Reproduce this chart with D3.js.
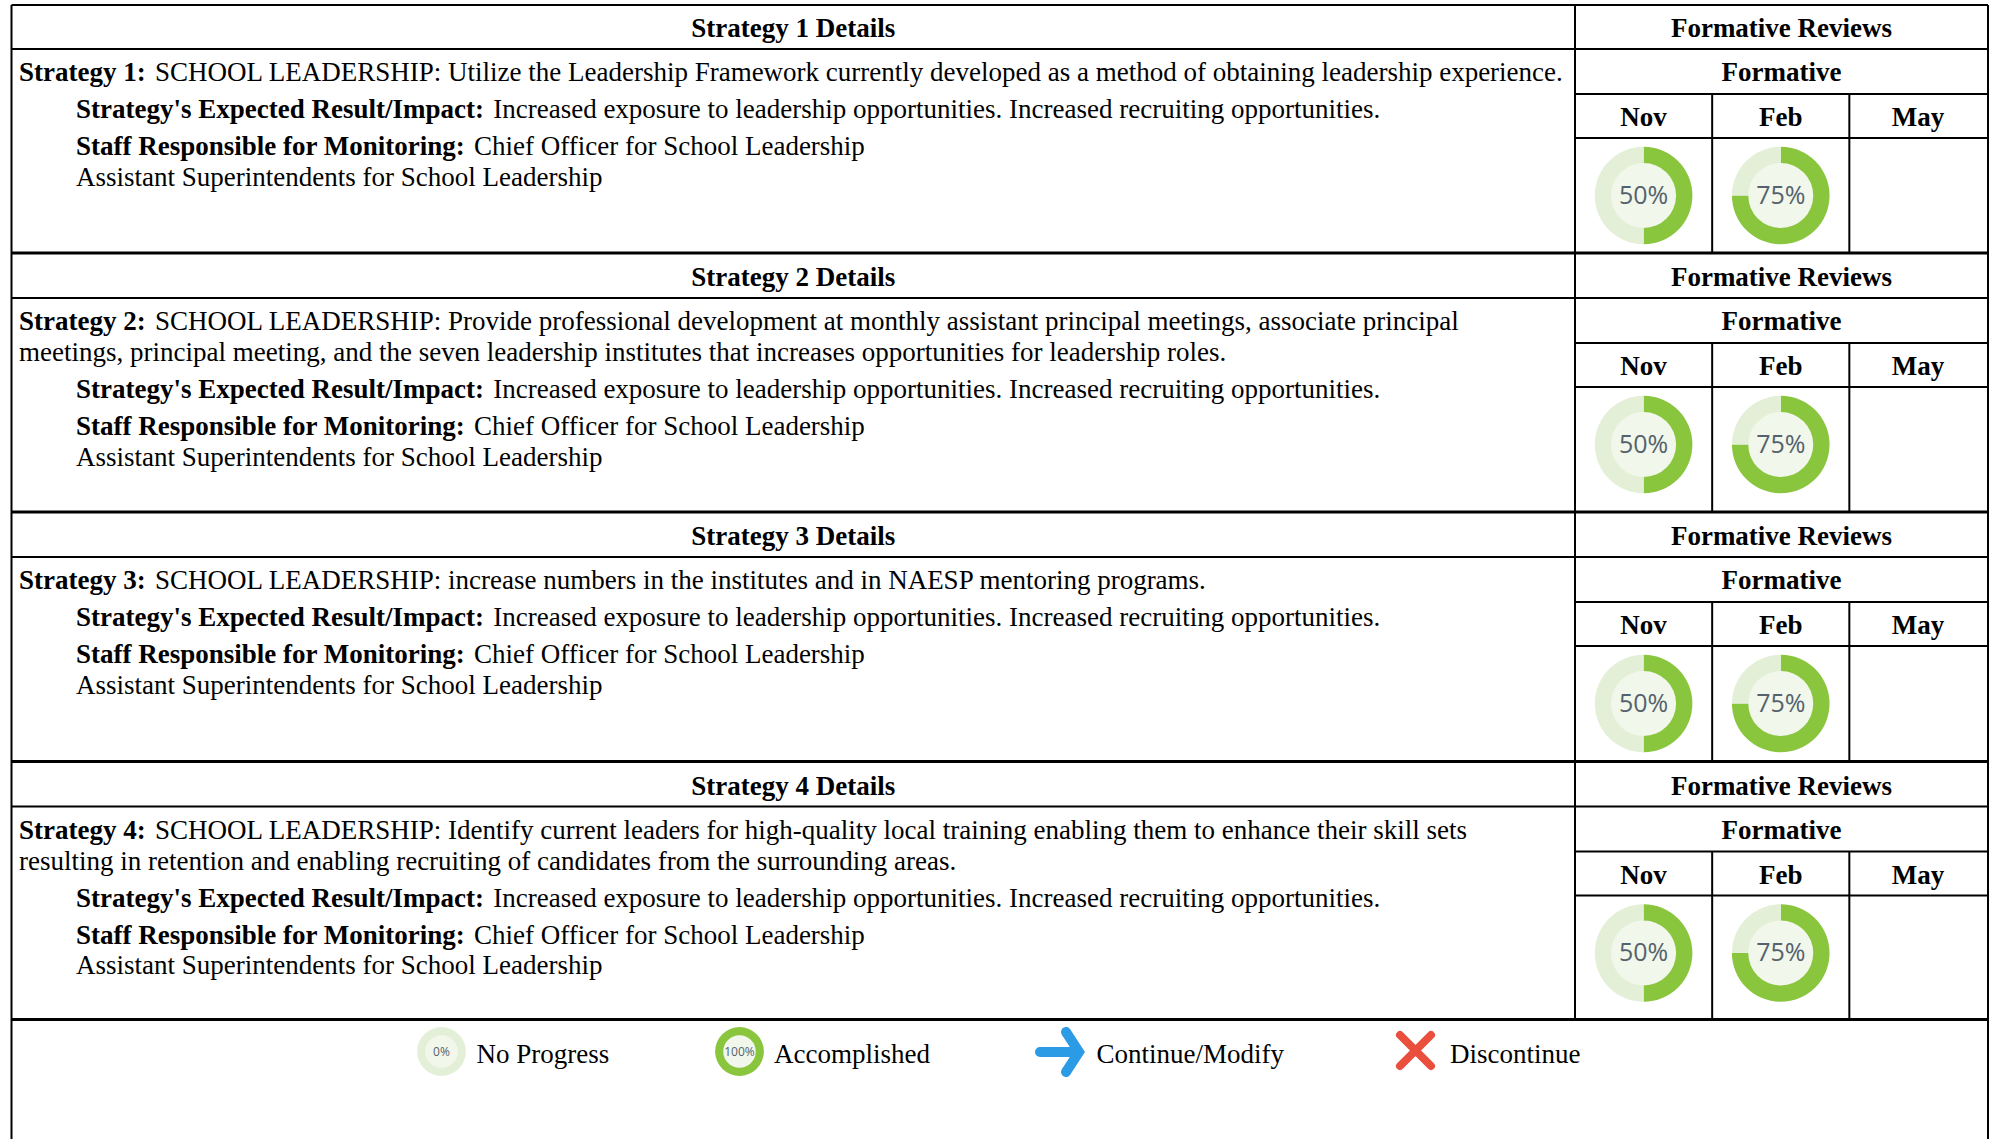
<!DOCTYPE html>
<html>
<head>
<meta charset="utf-8">
<script src="https://cdn.jsdelivr.net/npm/d3@7"></script>
<style>
  html, body { margin: 0; padding: 0; background: #fff; }
  svg { display: block; }
  text { font-family: "Liberation Serif", serif; fill: #000; }
</style>
</head>
<body>
<div class="canvas"></div>
<script>
// strategies, top to bottom
const strategyNames = ['Strategy 1', 'Strategy 2', 'Strategy 3', 'Strategy 4'];
const strategyLines = [
  ['SCHOOL LEADERSHIP: Utilize the Leadership Framework currently developed as a method of obtaining leadership experience.'],
  ['SCHOOL LEADERSHIP: Provide professional development at monthly assistant principal meetings, associate principal',
   'meetings, principal meeting, and the seven leadership institutes that increases opportunities for leadership roles.'],
  ['SCHOOL LEADERSHIP: increase numbers in the institutes and in NAESP mentoring programs.'],
  ['SCHOOL LEADERSHIP: Identify current leaders for high-quality local training enabling them to enhance their skill sets',
   'resulting in retention and enabling recruiting of candidates from the surrounding areas.']
];
const resultLabel = "Strategy's Expected Result/Impact:";
const resultText = 'Increased exposure to leadership opportunities. Increased recruiting opportunities.';
const staffLabel = 'Staff Responsible for Monitoring:';
const staffText = 'Chief Officer for School Leadership';
const staffText2 = 'Assistant Superintendents for School Leadership';

// formative reviews
const months = ['Nov', 'Feb', 'May'];
const novValues = [50, 50, 50, 50];
const febValues = [75, 75, 75, 75];
const mayValues = [null, null, null, null];

// legend
const legendLabels = ['No Progress', 'Accomplished', 'Continue/Modify', 'Discontinue'];
const legendValues = [0, 100];

const W = 1993, H = 1139;
const colors = { done: '#8ac53e', todo: '#e3f0d7', core: '#f1f7ea', pct: '#55626e', blue: '#2b9be6', red: '#ea4f3d' };

const svg = d3.select('.canvas')
  .append('svg')
    .attr('width', W)
    .attr('height', H);

// horizontal layout
const left = 11.5, split = 1575, right = 1988;
const monthX = d3.scaleBand().domain(months).range([split, right - 1.5]);

// rule above each block, plus the one closing the last block
const blockRules = [4, 253, 512, 761.5, 1019.5];

const line = (x1, y1, x2, y2, w = 2) => svg.append('line')
  .attr('x1', x1).attr('y1', y1).attr('x2', x2).attr('y2', y2)
  .attr('stroke', '#000').attr('stroke-width', w);

const label = (x, y, str, bold, anchor = 'start') => svg.append('text')
  .attr('x', x).attr('y', y)
  .attr('font-size', '27px')
  .attr('font-weight', bold ? 'bold' : 'normal')
  .attr('text-anchor', anchor)
  .text(str);

// text with a bold lead, the plain part follows on the same baseline
const mixed = (x, y, lead, rest) => {
  const t = svg.append('text').attr('x', x).attr('y', y).attr('font-size', '27px');
  t.append('tspan').attr('font-weight', 'bold').text(lead);
  t.append('tspan').attr('dx', 2.5).text(' ' + rest);
};

const arc = d3.arc().innerRadius(32.5).outerRadius(48.8);
const pie = d3.pie().sort(null).value(d => d);

function donut(cx, cy, value, scale = 1, textSize = 25) {
  const g = svg.append('g').attr('transform', `translate(${cx},${cy}) scale(${scale})`);
  g.append('circle').attr('r', 33).attr('fill', colors.core);
  g.selectAll('path')
    .data(pie([value, 100 - value]))
    .enter()
    .append('path')
      .attr('d', arc)
      .attr('fill', (d, i) => i ? colors.todo : colors.done);
  g.append('text')
    .attr('y', 8)
    .attr('text-anchor', 'middle')
    .attr('font-size', textSize + 'px')
    .style('font-family', '"Open Sans", "DejaVu Sans", sans-serif')
    .style('fill', colors.pct)
    .text(value + '%');
}

strategyNames.forEach((name, i) => {
  const top = blockRules[i], bottom = blockRules[i + 1];
  const head = top + 45, form = head + 45, month = form + 44;
  const lines = strategyLines[i];

  // grid
  line(left, head, right, head);
  line(split, form, right, form);
  line(split, month, right, month);
  line(split, top, split, bottom);
  months.slice(1).forEach(m => line(monthX(m), form, monthX(m), bottom));

  // headers
  label((left + split) / 2, top + 33, name + ' Details', true, 'middle');
  label((split + right) / 2, top + 33, 'Formative Reviews', true, 'middle');
  label((split + right) / 2, head + 32, 'Formative', true, 'middle');
  months.forEach(m => label(monthX(m) + monthX.bandwidth() / 2, form + 32, m, true, 'middle'));

  // strategy text
  let y = head + 32;
  mixed(19, y, name + ':', lines[0]);
  lines.slice(1).forEach(l => { y += 31; label(19, y, l, false); });
  y += 37;
  mixed(76, y, resultLabel, resultText);
  y += 37;
  mixed(76, y, staffLabel, staffText);
  y += 30.5;
  label(76, y, staffText2, false);

  // review circles
  const cy = month + 57.5;
  [novValues[i], febValues[i], mayValues[i]].forEach((v, j) => {
    if (v === null) return;
    donut(monthX(months[j]) + monthX.bandwidth() / 2, cy, v);
  });

  // block rule
  line(left, bottom, right, bottom, 3);
});

// outer frame
line(left, 5, right, 5);
line(right, 5, right, H);
line(left, 5, left, H);

// legend
const legendY = 1051.5;
donut(441.5, legendY, legendValues[0], 0.5, 24);
label(476.5, 1063, legendLabels[0], false);
donut(739.5, legendY, legendValues[1], 0.5, 24);
label(774, 1063, legendLabels[1], false);

svg.append('path')
  .attr('d', 'M1040,1052H1076M1066,1032L1079,1052L1066,1072')
  .attr('fill', 'none')
  .attr('stroke', colors.blue)
  .attr('stroke-width', 10)
  .attr('stroke-linecap', 'round')
  .attr('stroke-linejoin', 'miter');
label(1096.5, 1063, legendLabels[2], false);

svg.append('path')
  .attr('d', 'M1400,1035L1431,1066M1431,1035L1400,1066')
  .attr('fill', 'none')
  .attr('stroke', colors.red)
  .attr('stroke-width', 8)
  .attr('stroke-linecap', 'round');
label(1450, 1063, legendLabels[3], false);
</script>
</body>
</html>
